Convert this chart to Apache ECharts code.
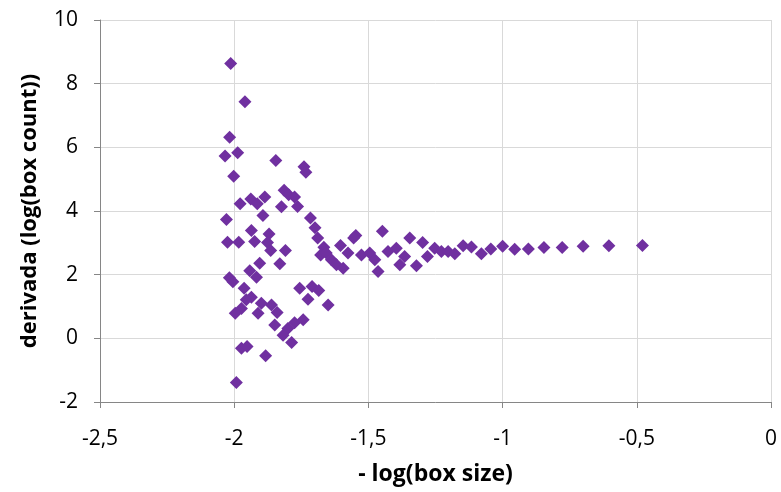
<!DOCTYPE html>
<html>
<head>
<meta charset="utf-8">
<script src="https://cdn.jsdelivr.net/npm/echarts@6/dist/echarts.min.js"></script>
<style>
html,body{margin:0;padding:0;background:#fff;}
#chart{width:781px;height:492px;}
</style>
</head>
<body>
<div id="chart"></div>
<script>
// -log(box size) values
var xValues = [
  -2.013,-1.960,-2.017,-2.034,-1.987,-1.845,-1.740,-1.733,-2.002,-1.978,
  -1.938,-1.914,-1.886,-1.814,-1.797,-1.775,-1.824,-1.764,-2.029,-1.893,
  -1.716,-1.699,-1.689,-1.936,-1.870,-2.025,-1.983,-1.924,-1.876,-1.864,
  -1.809,-1.666,-1.678,-1.905,-1.830,-1.942,-1.917,-2.018,-2.005,-1.963,
  -1.936,-1.955,-1.973,-1.996,-1.899,-1.861,-1.911,-1.840,-1.756,-1.710,
  -1.685,-1.725,-1.650,-1.849,-1.775,-1.743,-1.800,-1.818,-1.786,-1.973,
  -1.952,-1.883,-1.992,
  -1.604,-1.657,-1.638,-1.619,-1.594,-1.576,-1.547,-1.555,-1.526,-1.495,
  -1.476,-1.464,-1.448,-1.427,-1.396,-1.346,-1.298,-1.365,-1.383,-1.321,
  -1.280,-1.253,-1.228,-1.203,-1.178,-1.147,-1.116,-1.079,-1.044,-1.000,
  -0.955,-0.904,-0.846,-0.778,-0.700,-0.604,-0.479
];
// derivada values
var yValues = [
  8.63,7.43,6.32,5.73,5.83,5.59,5.39,5.22,5.09,4.23,
  4.38,4.23,4.44,4.65,4.51,4.44,4.13,4.14,3.73,3.86,
  3.78,3.47,3.15,3.39,3.28,3.02,3.02,3.04,3.01,2.76,
  2.76,2.86,2.62,2.36,2.34,2.12,1.92,1.90,1.78,1.57,
  1.29,1.21,0.94,0.79,1.10,1.05,0.79,0.81,1.57,1.63,
  1.50,1.23,1.05,0.42,0.49,0.58,0.31,0.10,-0.13,-0.31,
  -0.26,-0.55,-1.39,
  2.92,2.68,2.47,2.31,2.20,2.68,3.23,3.15,2.62,2.68,
  2.47,2.10,3.36,2.73,2.83,3.15,3.01,2.57,2.31,2.28,
  2.57,2.83,2.73,2.73,2.66,2.91,2.87,2.66,2.81,2.89,
  2.80,2.81,2.85,2.85,2.89,2.91,2.92
];
var xTickLabels = ['-2,5','-2','-1,5','-1','-0,5','0'];
var xTitle = '- log(box size)';
var yTitle = 'derivada (log(box count))';

var points = xValues.map(function(x, i){ return [x, yValues[i]]; });
var font = '"Open Sans", Lato, sans-serif';

var chart = echarts.init(document.getElementById('chart'), null, {renderer:'canvas'});
chart.setOption({
  animation: false,
  backgroundColor: '#ffffff',
  grid: {left: 100, right: 10, top: 20, bottom: 90, containLabel: false},
  xAxis: {
    type: 'value', min: -2.5, max: 0, interval: 0.5,
    name: xTitle, nameLocation: 'middle', nameGap: 61,
    nameTextStyle: {fontFamily: font, fontSize: 23, fontWeight: 'bold', color: '#000'},
    axisLine: {show: true, onZero: false, lineStyle: {color: '#868686', width: 1}},
    axisTick: {show: true, inside: false, length: 6, lineStyle: {color: '#868686'}},
    axisLabel: {
      fontFamily: font, fontSize: 21, color: '#000', margin: 27,
      formatter: function(v){
        var idx = Math.round((v + 2.5) / 0.5);
        return xTickLabels[idx] !== undefined ? xTickLabels[idx] : '';
      }
    },
    splitLine: {show: true, lineStyle: {color: '#d9d9d9', width: 1}}
  },
  yAxis: {
    type: 'value', min: -2, max: 10, interval: 2,
    name: yTitle, nameLocation: 'middle', nameGap: 59, nameRotate: 90,
    nameTextStyle: {fontFamily: font, fontSize: 22, fontWeight: 'bold', color: '#000'},
    axisLine: {show: true, onZero: false, lineStyle: {color: '#868686', width: 1}},
    axisTick: {show: true, inside: false, length: 6, lineStyle: {color: '#868686'}},
    axisLabel: {fontFamily: font, fontSize: 21, color: '#000', margin: 22},
    splitLine: {show: true, lineStyle: {color: '#d9d9d9', width: 1}}
  },
  series: [{
    type: 'scatter',
    data: points,
    symbol: 'diamond',
    symbolSize: 13,
    itemStyle: {color: '#7030a0', opacity: 1}
  }]
});
</script>
</body>
</html>
